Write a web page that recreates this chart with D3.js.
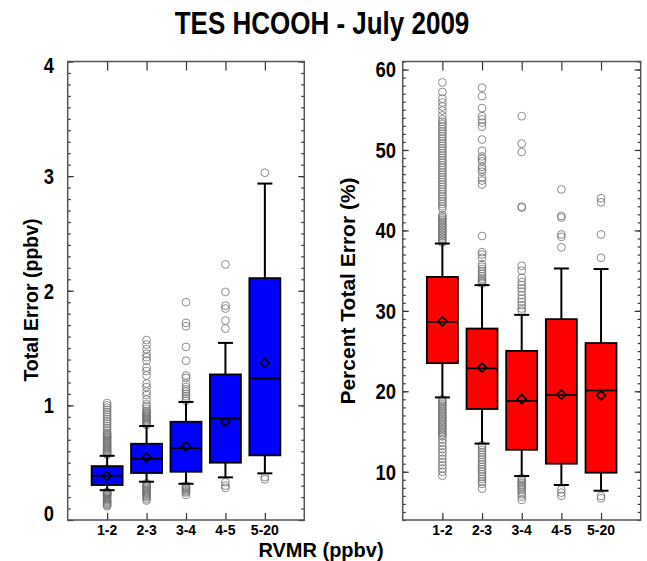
<!DOCTYPE html>
<html><head><meta charset="utf-8">
<script src="https://cdn.jsdelivr.net/npm/d3@7/dist/d3.min.js"></script>
<style>body{margin:0;background:#fff}svg{display:block}text{font-family:"Liberation Sans",Arial,Helvetica,sans-serif;font-weight:bold;fill:#000}</style>
</head><body><svg id="c" width="647" height="561"></svg>
<script>
const categories = ["1-2","2-3","3-4","4-5","5-20"];
// Left panel: Total Error (ppbv)
const absLowWhisker = [0.26,0.334,0.316,0.372,0.407];
const absQ1 = [0.305,0.41,0.421,0.50,0.564];
const absMedian = [0.386,0.534,0.627,0.886,1.235];
const absQ3 = [0.47,0.665,0.857,1.27,2.11];
const absHighWhisker = [0.56,0.82,1.03,1.545,2.935];
const absMean = [0.385,0.545,0.642,0.857,1.37];
const absOutliers = [
  [0.57,0.58,0.59,0.6,0.61,0.62,0.63,0.64,0.65,0.66,0.67,0.68,0.69,0.70,0.71,0.72,0.73,0.74,0.75,0.76,0.78,0.80,0.82,0.84,0.86,0.88,0.90,0.92,0.94,0.96,0.98,1.00,1.02,
   0.245,0.24,0.235,0.23,0.225,0.22,0.21,0.20,0.19,0.18,0.17,0.16,0.15,0.14,0.13,0.12],
  [1.57,1.53,1.49,1.45,1.42,1.39,1.33,1.30,1.26,1.19,1.16,1.12,1.09,1.05,1.01,0.99,0.97,0.95,0.94,0.93,0.92,0.91,0.90,0.89,0.88,0.87,0.86,0.85,0.84,0.83,
   0.32,0.31,0.30,0.29,0.28,0.27,0.26,0.25,0.24,0.23,0.22,0.21,0.20,0.185,0.17],
  [1.04,1.06,1.08,1.10,1.12,1.14,1.16,1.19,1.24,1.26,1.39,1.51,1.69,1.72,1.90,
   0.30,0.29,0.28,0.27,0.26,0.25,0.24,0.22],
  [1.67,1.74,1.845,1.87,1.99,2.23,0.33,0.30,0.28],
  [3.03,0.375,0.355]
];
// Right panel: Percent Total Error (%)
const pctLowWhisker = [19.24,13.5,9.47,8.35,7.64];
const pctQ1 = [23.5,17.8,12.73,11.0,9.88];
const pctMedian = [28.63,22.85,18.8,19.53,20.1];
const pctQ3 = [34.22,27.8,25.03,28.97,26.0];
const pctHighWhisker = [38.37,33.2,29.5,35.27,35.2];
const pctMean = [28.7,22.95,19.03,19.6,19.5];
const pctOutliers = [
  [58.4,57.2,56.4,55.9,55.4,54.9,54.3,53.8,53.5,53.2,52.9,52.6,52.3,52.0,51.7,51.4,51.1,50.8,50.5,50.2,49.9,49.6,49.3,49.0,48.7,48.4,48.1,47.8,47.5,47.2,46.9,46.6,46.3,46.0,45.7,45.4,45.1,44.8,44.5,44.2,43.9,43.6,43.3,43.0,42.7,
   41.9,41.7,41.5,41.3,41.1,40.9,40.7,40.5,40.3,40.1,39.9,39.7,39.5,39.3,39.1,38.9,38.7,38.5,
   19.0,18.8,18.6,18.4,18.2,18.0,17.8,17.6,17.4,17.2,17.0,16.8,16.6,16.4,16.2,16.0,15.8,15.6,15.4,15.2,15.0,14.8,14.6,14.4,14.0,13.6,13.2,12.8,12.4,12.0,11.6,11.2,10.8,10.4,10.0,9.5],
  [33.4,33.6,33.8,34.0,34.3,34.6,34.9,35.2,35.5,35.8,36.6,37.0,37.3,39.3,45.7,46.2,46.6,47.3,47.6,47.9,48.6,48.9,49.2,49.9,51.3,52.9,53.4,53.8,54.2,55.2,56.7,57.75,
   13.3,13.0,12.7,12.4,12.1,11.8,11.5,11.2,10.9,10.6,10.3,10.0,9.7,9.4,9.1,8.8,8.5,7.9],
  [30.0,30.3,30.7,31.1,31.5,31.95,32.4,32.8,33.2,33.6,34.1,35.0,35.6,42.85,42.95,49.75,50.8,54.2,
   9.2,9.0,8.8,8.6,8.4,8.2,8.0,7.8,7.5,7.2,6.9,6.5],
  [37.9,39.2,39.5,41.6,41.8,45.1,7.8,7.4,7.0],
  [36.6,39.5,43.5,44.0,7.0,6.7]
];
const absTicks = [0,1,2,3,4];
const pctTicks = [10,20,30,40,50,60];

const svg = d3.select("#c");
const plotTop = 61.5, plotBottom = 520;

svg.append("text").attr("transform","translate(322,34) scale(1,1.2)").attr("text-anchor","middle")
  .style("font-size","26px").text("TES HCOOH - July 2009");
svg.append("text").attr("x",321).attr("y",556.5).attr("text-anchor","middle")
  .style("font-size","20px").text("RVMR (ppbv)");

function panel(opt){
  const x = d3.scaleLinear().domain([0,6]).range([opt.left, opt.right]);
  const y = d3.scaleLinear().domain(opt.domain).range([plotBottom, plotTop]);
  const g = svg.append("g");
  const n = categories.length;
  const data = categories.map((c,i)=>({c, i, lw:opt.lw[i], q1:opt.q1[i], med:opt.med[i], q3:opt.q3[i], hw:opt.hw[i], mean:opt.mean[i], out:opt.out[i]}));
  const bw = 31, cw = 15;
  data.forEach(d=>{
    g.selectAll(null).data(d.out).join("circle")
      .attr("cx", x(d.i+1)).attr("cy", v=>y(v)).attr("r",3.9)
      .attr("fill","none").attr("stroke","#707070").attr("stroke-width",0.8);
  });
  const bx = g.selectAll(".bx").data(data).join("g");
  bx.append("line").attr("x1",d=>x(d.i+1)).attr("x2",d=>x(d.i+1))
    .attr("y1",d=>y(d.lw)).attr("y2",d=>y(d.hw)).attr("stroke","#000").attr("stroke-width",2);
  bx.append("line").attr("x1",d=>x(d.i+1)-cw/2).attr("x2",d=>x(d.i+1)+cw/2)
    .attr("y1",d=>y(d.lw)).attr("y2",d=>y(d.lw)).attr("stroke","#000").attr("stroke-width",2);
  bx.append("line").attr("x1",d=>x(d.i+1)-cw/2).attr("x2",d=>x(d.i+1)+cw/2)
    .attr("y1",d=>y(d.hw)).attr("y2",d=>y(d.hw)).attr("stroke","#000").attr("stroke-width",2);
  bx.append("rect").attr("x",d=>x(d.i+1)-bw/2).attr("width",bw)
    .attr("y",d=>y(d.q3)).attr("height",d=>y(d.q1)-y(d.q3))
    .attr("fill",opt.color).attr("stroke","#000").attr("stroke-width",1.8);
  bx.append("line").attr("x1",d=>x(d.i+1)-bw/2).attr("x2",d=>x(d.i+1)+bw/2)
    .attr("y1",d=>y(d.med)).attr("y2",d=>y(d.med)).attr("stroke","#000").attr("stroke-width",1.8);
  const s = 4.5;
  bx.append("path").attr("d",d=>{const cx=x(d.i+1), cy=y(d.mean);
      return `M${cx},${cy-s}L${cx+s},${cy}L${cx},${cy+s}L${cx-s},${cy}Z`;})
    .attr("fill","none").attr("stroke","#000").attr("stroke-width",1.6);

  const axStyle = sel => { sel.select(".domain").remove(); sel.selectAll("line").attr("stroke","#333").attr("stroke-width",1.2); sel.selectAll("text").remove(); };
  g.append("g").attr("transform",`translate(${opt.left},0)`).call(d3.axisLeft(y).tickValues(opt.minor).tickSize(-3).tickFormat("")).call(axStyle);
  g.append("g").attr("transform",`translate(${opt.left},0)`).call(d3.axisLeft(y).tickValues(opt.ticks).tickSize(-6).tickFormat("")).call(axStyle);
  g.append("g").attr("transform",`translate(${opt.right},0)`).call(d3.axisRight(y).tickValues(opt.minor).tickSize(-3).tickFormat("")).call(axStyle);
  g.append("g").attr("transform",`translate(${opt.right},0)`).call(d3.axisRight(y).tickValues(opt.ticks).tickSize(-6).tickFormat("")).call(axStyle);
  g.append("g").attr("transform",`translate(0,${plotBottom})`).call(d3.axisBottom(x).tickValues(d3.range(1,n+1)).tickSize(-7).tickFormat("")).call(axStyle);
  g.append("g").attr("transform",`translate(0,${plotTop})`).call(d3.axisTop(x).tickValues(d3.range(1,n+1)).tickSize(-9).tickFormat("")).call(axStyle);
  g.append("rect").attr("x",opt.left).attr("y",plotTop).attr("width",opt.right-opt.left).attr("height",plotBottom-plotTop)
    .attr("fill","none").attr("stroke","#555").attr("stroke-width",1.5);
  g.selectAll(".yl").data(opt.ticks).join("text")
    .attr("transform",v=>`translate(${opt.labelX},${Math.min(Math.max(y(v),plotTop+4),plotBottom-7)}) scale(0.92,1.1)`)
    .attr("dy","0.36em")
    .attr("text-anchor","end").style("font-size","20px").text(d=>d);
  g.selectAll(".xl").data(categories).join("text")
    .attr("x",(d,i)=>x(i+1)).attr("y",535).attr("text-anchor","middle").style("font-size","14px").text(d=>d);
  g.append("text").attr("transform",`translate(${opt.titleX},${opt.titleY}) rotate(-90)`)
    .attr("text-anchor","middle").style("font-size",opt.titleSize).text(opt.title);
}

panel({left:67.7, right:304.3, domain:[0,4], color:"#0000ff",
  lw:absLowWhisker,q1:absQ1,med:absMedian,q3:absQ3,hw:absHighWhisker,mean:absMean,out:absOutliers,
  ticks:absTicks, minor:d3.range(0,41).map(v=>v/10), labelX:54,
  title:"Total Error (ppbv)", titleX:38, titleY:300, titleSize:"19.5px"});
panel({left:402.7, right:640.7, domain:[4,61], color:"#ff0000",
  lw:pctLowWhisker,q1:pctQ1,med:pctMedian,q3:pctQ3,hw:pctHighWhisker,mean:pctMean,out:pctOutliers,
  ticks:pctTicks, minor:d3.range(4,62), labelX:396,
  title:"Percent Total Error (%)", titleX:355, titleY:291, titleSize:"21px"});
</script></body></html>
